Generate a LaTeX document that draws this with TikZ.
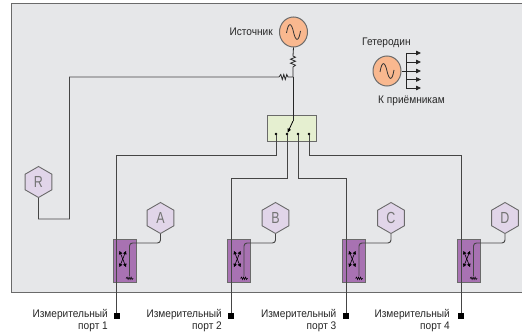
\documentclass[tikz,border=0pt]{standalone}
\usepackage{fontspec}
\usepackage{graphicx}
\setmainfont{Liberation Sans}
\usetikzlibrary{shapes.geometric,arrows.meta,calc}
\definecolor{panelbg}{HTML}{E6E7E9}
\definecolor{edgegr}{HTML}{6A6A6A}
\definecolor{srcfill}{HTML}{F9B88F}
\definecolor{hexfill}{HTML}{E1D5E9}
\definecolor{cplfill}{HTML}{A872B2}
\definecolor{swfill}{HTML}{E5EFD0}
\definecolor{wiregr}{HTML}{454545}
\tikzset{
  x=1pt,y=-1pt,
  wire/.style={draw=wiregr,line width=0.95pt},
  blackwire/.style={draw=black!85,line width=0.8pt},
  src/.style={ellipse,draw=edgegr,line width=1pt,fill=srcfill,minimum width=28pt,minimum height=30pt,inner sep=0pt},
  hexa/.style={regular polygon,regular polygon sides=6,shape border rotate=30,draw=edgegr,line width=0.9pt,fill=hexfill,minimum size=31pt,inner sep=0pt,text=black!55,font=\fontsize{16}{16}\selectfont},
  cpl/.style={rectangle,draw=edgegr,line width=1pt,fill=cplfill,minimum width=23pt,minimum height=43pt,inner sep=0pt},
  label/.style={font=\fontsize{11}{11}\selectfont,text=black!85,inner sep=0pt,xscale=0.92},
  portsq/.style={rectangle,fill=black,minimum size=6pt,inner sep=0pt},
  contact/.style={circle,fill=black,minimum size=2.6pt,inner sep=0pt},
  tip/.style={-{Triangle[length=5pt,width=4.5pt]}},
  xtip/.style={line width=0.6pt,black,{Triangle[length=3.2pt,width=3.4pt]}-{Triangle[length=3.2pt,width=3.4pt]}}
}
\newcommand{\sinewave}[1]{\draw[line width=0.8pt,black!80] ($(#1)+(-7,1)$) .. controls ($(#1)+(-5,-11)$) and ($(#1)+(-2,-9)$) .. ($(#1)+(0,0)$) .. controls ($(#1)+(2,9)$) and ($(#1)+(5,11)$) .. ($(#1)+(7,-1)$);}
\newcommand{\hexlabel}[1]{\scalebox{0.78}[1]{#1}}
\newcommand{\coupler}[2]{%
  \node[cpl] (cp#1) at (#2,260.5) {};
  \draw[xtip] ($(cp#1.center)+(-5,-9.5)$) -- ($(cp#1.center)+(1.5,6.5)$);
  \draw[xtip] ($(cp#1.center)+(1.5,-9.5)$) -- ($(cp#1.center)+(-5,6.5)$);
  \draw[line width=0.6pt,black] ($(cp#1.center)+(1.5,18)$) -- ++(1.1,-1.4) -- ++(1,2.4) -- ++(1,-2.4) -- ++(1,2.4) -- ++(1,-2.4) -- ++(1,2.4) -- ++(1,-1.2);
}
\begin{document}
\begin{tikzpicture}
\useasboundingbox (0,0) rectangle (522,334);
\fill[white] (0,0) rectangle (522,334);
\node[fill=panelbg,minimum width=511pt,minimum height=288pt,inner sep=0pt,anchor=north west] (panel) at (11,4) {};
\draw[edgegr,line width=1pt] (panel.north east) -- (panel.north west) -- (panel.south west) -- (panel.south east);

% sources
\node[src] (source) at (293.5,32) {};
\sinewave{source.center}
\node[src] (lo) at (387,71) {};
\sinewave{lo.center}
\node[label,anchor=east] (tsrc) at (273,31.5) {Источник};
\node[label,anchor=west] (tlo) at (362,43) {Гетеродин};
\node[label,anchor=west] (trx) at (378,101) {К приёмникам};

% resistors + junction
\coordinate (junc) at (293,77);
\coordinate (rvt) at (293,56);
\coordinate (rvb) at (293,67);
\coordinate (rht) at (279,77);
\coordinate (rhb) at (288,77);
\draw[blackwire] (source.south) -- (rvt) -- ++(2.5,1.2) -- ++(-5,2) -- ++(5,2) -- ++(-5,2) -- ++(5,2) -- (rvb) -- (junc);
\draw[blackwire] (junc) -- (rhb) -- ++(-1.2,-2.5) -- ++(-1.5,5) -- ++(-1.5,-5) -- ++(-1.5,5) -- ++(-1.5,-5) -- (rht);

% switch
\node[rectangle,draw=edgegr,line width=1pt,fill=swfill,minimum width=49pt,minimum height=26pt,inner sep=0pt] (sw) at (292,128.5) {};
\coordinate (sw0) at (293,121);
\node[contact] (c1) at (276,134) {};
\node[contact] (c2) at (287,134) {};
\node[contact] (c3) at (298,134) {};
\node[contact] (c4) at (309,134) {};
\draw[blackwire] (junc) -- (sw0);
\draw[black,line width=0.8pt,-{Triangle[length=4pt,width=3.4pt]}] (sw0) -- (c2);

% couplers
\coupler{A}{124.5}
\coupler{B}{239}
\coupler{C}{354}
\coupler{D}{468.5}

% measurement lines
\node[portsq] (p1) at (116.5,316) {};
\node[portsq] (p2) at (231,316) {};
\node[portsq] (p3) at (346,316) {};
\node[portsq] (p4) at (461,316) {};
\draw[wire] (c1) -- (276,155) -- (116.5,155) -- (p1);
\draw[wire] (c2) -- (287,178) -- (231,178) -- (p2);
\draw[wire] (c3) -- (298,178) -- (346,178) -- (p3);
\draw[wire] (c4) -- (309,155) -- (461,155) -- (p4);

% hexagons
\node[hexa] (R) at (38.5,182) {\hexlabel{R}};
\node[hexa] (A) at (160.5,218) {\hexlabel{A}};
\node[hexa] (B) at (275.5,218) {\hexlabel{B}};
\node[hexa] (C) at (391,218) {\hexlabel{C}};
\node[hexa] (D) at (505,218) {\hexlabel{D}};
\draw[wire] (R.south) -- (38.5,219) -- (69.5,219) -- (69.5,77) -- (rht);
\foreach \h/\xx in {A/129.5,B/244,C/359,D/473.5}{
  \draw[wire,rounded corners=3pt] (\h.south) |- (\xx,243) -- (\xx,276);
}

% LO outputs
\coordinate (lobus) at (406,71);
\draw[blackwire] (lo.east) -- (lobus);
\draw[blackwire] (406,53) -- (406,88);
\foreach \yy in {53,62,71,79.5,88}{
  \draw[blackwire,tip] (406,\yy) -- (421,\yy);
}

% port labels
\foreach \xx/\n in {108/1,222/2,336.5/3,450/4}{
  \node[label,anchor=east] at (\xx,315) {Измерительный};
  \node[label,anchor=east] at (\xx,327) {порт \n};
}
\end{tikzpicture}
\end{document}
